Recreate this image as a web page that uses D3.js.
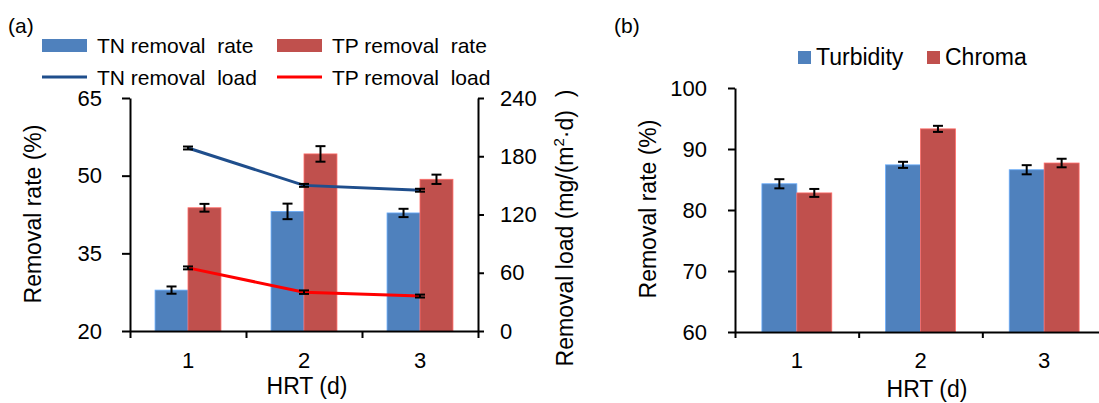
<!DOCTYPE html>
<html>
<head>
  <meta charset="utf-8">
  <title>Removal rates vs HRT</title>
  <script src="https://d3js.org/d3.v7.min.js"></script>
  <style>
    body { margin: 0; background: #fff; font-family: "Liberation Sans", Arial, sans-serif; }
    svg text { font-family: "Liberation Sans", Arial, sans-serif; fill: #000; }
    .axis path, .axis line { stroke: #000; stroke-width: 2px; }
    .axis text { font-size: 22px; }
  </style>
</head>
<body>
  <script>
    // Data
    var hrt = ["1", "2", "3"];
    var tnRate = [27.9, 43.1, 42.8];
    var tnRateErr = [0.7, 1.5, 0.8];
    var tpRate = [43.8, 54.2, 49.3];
    var tpRateErr = [0.75, 1.5, 0.9];
    var tnLoad = [188.5, 150, 145];
    var tnLoadErr = [1.5, 1.5, 1.5];
    var tpLoad = [65, 40, 36];
    var tpLoadErr = [1.5, 1.8, 1.5];
    var rateTicks = [20, 35, 50, 65];
    var loadTicks = [0, 60, 120, 180, 240];

    var turbidity = [84.3, 87.4, 86.6];
    var turbidityErr = [0.75, 0.5, 0.75];
    var chroma = [82.8, 93.3, 87.7];
    var chromaErr = [0.65, 0.5, 0.7];
    var bTicks = [60, 70, 80, 90, 100];

    var blue = "#4f81bd", red = "#c0504d";

    var svg = d3.select("body").append("svg")
      .attr("width", 1099).attr("height", 403);

    function errBar(g, cx, y, v, e, cap) {
      g.append("line").attr("x1", cx).attr("x2", cx)
        .attr("y1", y(v - e)).attr("y2", y(v + e))
        .attr("stroke", "#000").attr("stroke-width", 2);
      [v - e, v + e].forEach(function(w) {
        g.append("line").attr("x1", cx - cap).attr("x2", cx + cap)
          .attr("y1", y(w)).attr("y2", y(w))
          .attr("stroke", "#000").attr("stroke-width", 2);
      });
    }

    // ---------- panel (a) ----------
    var ga = svg.append("g");
    var xa = d3.scaleBand().domain(hrt).range([130, 478]).padding(0);
    var xaTick = d3.scaleLinear().domain([0, 3]).range([130, 478]);
    var xaSub = d3.scaleBand().domain(["TN", "TP"]).range([0, xa.bandwidth()])
      .paddingInner(0).paddingOuter(0.76);
    var ya = d3.scaleLinear().domain([20, 65]).range([331, 98]);
    var yaR = d3.scaleLinear().domain([0, 240]).range([331, 98]);

    // bars
    [["TN", tnRate, blue], ["TP", tpRate, red]].forEach(function(s) {
      hrt.forEach(function(h, i) {
        ga.append("rect")
          .attr("x", xa(h) + xaSub(s[0]))
          .attr("width", xaSub.bandwidth())
          .attr("y", ya(s[1][i]))
          .attr("height", ya(20) - ya(s[1][i]))
          .attr("fill", s[2])
          .attr("stroke", d3.color(s[2]).brighter(0.8)).attr("stroke-width", 0.8);
      });
    });
    [["TN", tnRate, tnRateErr], ["TP", tpRate, tpRateErr]].forEach(function(s) {
      hrt.forEach(function(h, i) {
        errBar(ga, xa(h) + xaSub(s[0]) + xaSub.bandwidth() / 2, ya, s[1][i], s[2][i], 5);
      });
    });

    // lines
    var line = d3.line()
      .x(function(d, i) { return xa(hrt[i]) + xa.bandwidth() / 2; })
      .y(function(d) { return yaR(d); });
    ga.append("path").datum(tnLoad).attr("d", line)
      .attr("fill", "none").attr("stroke", "#1f4e8c").attr("stroke-width", 3);
    ga.append("path").datum(tpLoad).attr("d", line)
      .attr("fill", "none").attr("stroke", "#ff0000").attr("stroke-width", 3);
    hrt.forEach(function(h, i) {
      var cx = xa(h) + xa.bandwidth() / 2;
      errBar(ga, cx, yaR, tnLoad[i], tnLoadErr[i], 5);
      errBar(ga, cx, yaR, tpLoad[i], tpLoadErr[i], 5);
    });

    // axes
    ga.append("g").attr("class", "axis").attr("transform", "translate(130,0)")
      .call(d3.axisLeft(ya).tickValues(rateTicks).tickSize(8).tickSizeOuter(0).tickPadding(20));
    ga.append("g").attr("class", "axis").attr("transform", "translate(478,0)")
      .call(d3.axisRight(yaR).tickValues(loadTicks).tickSize(6).tickSizeOuter(0).tickPadding(16));
    ga.append("g").attr("class", "axis").attr("transform", "translate(0,331)")
      .call(d3.axisBottom(xaTick).tickValues([0, 1, 2, 3]).tickFormat("").tickSize(7).tickSizeOuter(0));
    ga.append("g").attr("class", "axis").attr("transform", "translate(0,331)")
      .call(d3.axisBottom(xa).tickSize(0).tickPadding(21))
      .select(".domain").remove();

    ga.append("text").attr("x", 8).attr("y", 33).style("font-size", "21px").text("(a)");
    ga.append("text").attr("transform", "translate(41,214) rotate(-90)")
      .attr("text-anchor", "middle").style("font-size", "23px").text("Removal rate (%)");
    ga.append("text").attr("x", 307).attr("y", 394)
      .attr("text-anchor", "middle").style("font-size", "23px").text("HRT (d)");
    var rl = ga.append("text").attr("transform", "translate(573,228) rotate(-90)")
      .attr("text-anchor", "middle").style("font-size", "23px");
    rl.append("tspan").text("Removal load (mg/(m");
    rl.append("tspan").attr("dy", -9).style("font-size", "15px").text("2");
    rl.append("tspan").attr("dy", 9).text("\u00b7d)\u00a0\u00a0)");

    // legend (a)
    var legA = [
      {x: 42, y: 45, type: "rect", c: blue, t: "TN removal  rate"},
      {x: 277, y: 45, type: "rect", c: red, t: "TP removal  rate"},
      {x: 42, y: 77, type: "line", c: "#1f4e8c", t: "TN removal  load"},
      {x: 277, y: 77, type: "line", c: "#ff0000", t: "TP removal  load"}
    ];
    legA.forEach(function(d) {
      if (d.type === "rect") {
        ga.append("rect").attr("x", d.x).attr("y", d.y - 6).attr("width", 45).attr("height", 13).attr("fill", d.c);
      } else {
        ga.append("line").attr("x1", d.x).attr("x2", d.x + 45).attr("y1", d.y).attr("y2", d.y)
          .attr("stroke", d.c).attr("stroke-width", 3);
      }
      ga.append("text").attr("x", d.x + 55).attr("y", d.y + 8).style("font-size", "21px")
        .style("white-space", "pre").attr("xml:space", "preserve").text(d.t);
    });

    // ---------- panel (b) ----------
    var gb = svg.append("g");
    var xb = d3.scaleBand().domain(hrt).range([735, 1106]).padding(0);
    var xbTick = d3.scaleLinear().domain([0, 3]).range([735, 1106]);
    var xbSub = d3.scaleBand().domain(["T", "C"]).range([0, xb.bandwidth()])
      .paddingInner(0).paddingOuter(0.77);
    var yb = d3.scaleLinear().domain([60, 100]).range([332, 88]);

    [["T", turbidity, blue], ["C", chroma, red]].forEach(function(s) {
      hrt.forEach(function(h, i) {
        gb.append("rect")
          .attr("x", xb(h) + xbSub(s[0]))
          .attr("width", xbSub.bandwidth())
          .attr("y", yb(s[1][i]))
          .attr("height", yb(60) - yb(s[1][i]))
          .attr("fill", s[2])
          .attr("stroke", d3.color(s[2]).brighter(0.8)).attr("stroke-width", 0.8);
      });
    });
    [["T", turbidity, turbidityErr], ["C", chroma, chromaErr]].forEach(function(s) {
      hrt.forEach(function(h, i) {
        errBar(gb, xb(h) + xbSub(s[0]) + xbSub.bandwidth() / 2, yb, s[1][i], s[2][i], 5);
      });
    });

    gb.append("g").attr("class", "axis").attr("transform", "translate(735,0)")
      .call(d3.axisLeft(yb).tickValues(bTicks).tickSize(7).tickSizeOuter(0).tickPadding(21));
    gb.append("g").attr("class", "axis").attr("transform", "translate(0,332)")
      .call(d3.axisBottom(xbTick).tickValues([0, 1, 2]).tickFormat("").tickSize(6).tickSizeOuter(0));
    gb.append("g").attr("class", "axis").attr("transform", "translate(0,332)")
      .call(d3.axisBottom(xb).tickSize(0).tickPadding(20))
      .select(".domain").remove();

    gb.append("text").attr("x", 614).attr("y", 33).style("font-size", "21px").text("(b)");
    gb.append("text").attr("transform", "translate(656,209) rotate(-90)")
      .attr("text-anchor", "middle").style("font-size", "23px").text("Removal rate (%)");
    gb.append("text").attr("x", 927).attr("y", 397)
      .attr("text-anchor", "middle").style("font-size", "23px").text("HRT (d)");

    var legB = [{x: 798, c: blue, t: "Turbidity"}, {x: 927, c: red, t: "Chroma"}];
    legB.forEach(function(d) {
      gb.append("rect").attr("x", d.x).attr("y", 51).attr("width", 13).attr("height", 13).attr("fill", d.c);
      gb.append("text").attr("x", d.x + 18).attr("y", 65).style("font-size", "23px").text(d.t);
    });
  </script>
</body>
</html>
